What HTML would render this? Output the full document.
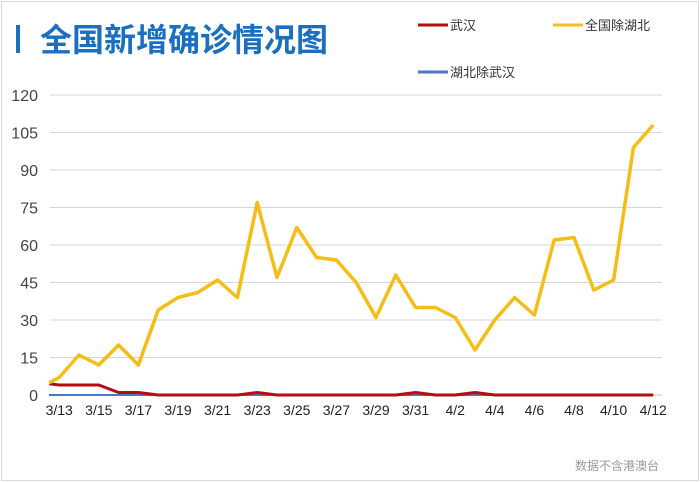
<!DOCTYPE html>
<html><head><meta charset="utf-8"><style>
html,body{margin:0;padding:0;background:#fff;}
body{width:700px;height:482px;overflow:hidden;position:relative;font-family:"Liberation Sans","Noto Sans CJK SC",sans-serif;}
#frame{position:absolute;left:1px;top:1px;width:696px;height:478px;border:1px solid #d8d8d8;}
</style></head><body>
<div id="frame"></div>
<svg id="chart" width="700" height="482" style="position:absolute;left:0;top:0">
<rect x="16" y="25" width="4" height="28" fill="#1a6fc0"/>
<text x="40" y="51" font-size="32" font-weight="bold" fill="#1a6fc0" font-family="'Liberation Sans','Noto Sans CJK SC',sans-serif">全国新增确诊情况图</text>
<g>
<g><line x1="418" y1="25" x2="448" y2="25" stroke="#b50d12" stroke-width="3"/><text x="450" y="30" font-size="13" fill="#333" font-family="'Liberation Sans','Noto Sans CJK SC',sans-serif">武汉</text></g>
<g><line x1="553" y1="25" x2="583" y2="25" stroke="#f5be16" stroke-width="3"/><text x="585" y="30" font-size="13" fill="#333" font-family="'Liberation Sans','Noto Sans CJK SC',sans-serif">全国除湖北</text></g>
<g><line x1="418" y1="72" x2="448" y2="72" stroke="#4a78c4" stroke-width="3"/><text x="450" y="77" font-size="13" fill="#333" font-family="'Liberation Sans','Noto Sans CJK SC',sans-serif">湖北除武汉</text></g>
</g>
<g id="grid"></g><g id="yticks"></g><g id="xticks"></g>
<defs><clipPath id="plotclip"><rect x="49" y="80" width="620" height="330"/></clipPath></defs>
<g id="series" clip-path="url(#plotclip)"></g>
<text x="575" y="470" font-size="12" fill="#999" font-family="'Liberation Sans','Noto Sans CJK SC',sans-serif">数据不含港澳台</text>
</svg>
<script>
const dates=["3/12","3/13","3/14","3/15","3/16","3/17","3/18","3/19","3/20","3/21","3/22","3/23","3/24","3/25","3/26","3/27","3/28","3/29","3/30","3/31","4/1","4/2","4/3","4/4","4/5","4/6","4/7","4/8","4/9","4/10","4/11","4/12"];
const nationalExHubei=[3,7,16,12,20,12,34,39,41,46,39,77,47,67,55,54,45,31,48,35,35,31,18,30,39,32,62,63,42,46,99,108];
const wuhan=[5,4,4,4,1,1,0,0,0,0,0,1,0,0,0,0,0,0,0,1,0,0,1,0,0,0,0,0,0,0,0,0];
const hubeiExWuhan=[0,0,0,0,0,0,0,0,0,0,0,0,0,0,0,0,0,0,0,0,0,0,0,0,0,0,0,0,0,0,0,0];
const yTicks=[0,15,30,45,60,75,90,105,120];
const xLabels=["3/13","3/15","3/17","3/19","3/21","3/23","3/25","3/27","3/29","3/31","4/2","4/4","4/6","4/8","4/10","4/12"];
const NS="http://www.w3.org/2000/svg";
const x0=39.4,step=19.8,yBase=395,yTop=95,yMax=120;
function xs(i){return x0+i*step;}
function ys(v){return yBase-(v/yMax)*(yBase-yTop);}
function mk(tag,attrs,parent){const e=document.createElementNS(NS,tag);for(const k in attrs)e.setAttribute(k,attrs[k]);parent.appendChild(e);return e;}
const grid=document.getElementById('grid'),yt=document.getElementById('yticks'),xt=document.getElementById('xticks'),ser=document.getElementById('series');
yTicks.forEach(v=>{
 const l=mk('line',{x1:50,x2:662,y1:ys(v),y2:ys(v),stroke:v===0?'#c8c8c8':'#d6d6d6','stroke-width':1},grid);
 
 
 const t=mk('text',{x:38,y:ys(v)+6,'font-size':16,fill:'#444','text-anchor':'end'},yt);
 t.textContent=v;
 
 
});
xLabels.forEach(lab=>{
 const i=dates.indexOf(lab);
 const t=mk('text',{x:xs(i),y:415,'font-size':14,fill:'#222','text-anchor':'middle'},xt);
 t.textContent=lab;
 
 
});
function line(vals,color,name,w){
 const p=mk('polyline',{points:vals.map((v,i)=>xs(i)+','+ys(v)).join(' '),fill:'none',stroke:color,'stroke-width':w,'stroke-linejoin':'round'},ser);
 
 
}
line(hubeiExWuhan,'#4a78c4','series-hubei-ex-wuhan',2);
line(wuhan,'#b50d12','series-wuhan',3);
line(nationalExHubei,'#f5be16','series-national-ex-hubei',3.5);
</script>
</body></html>
